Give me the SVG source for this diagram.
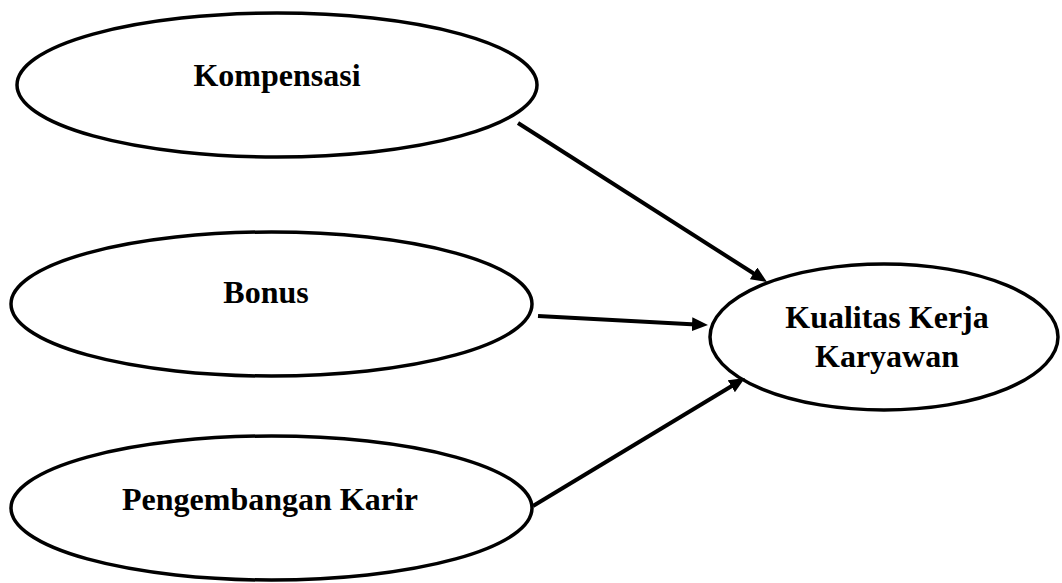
<svg xmlns="http://www.w3.org/2000/svg" width="1062" height="583" viewBox="0 0 1062 583">
  <style>
    .node ellipse { fill: #ffffff; stroke: #000000; stroke-width: 3.5; }
    .node text { font-family: "Liberation Serif", "Times New Roman", serif; font-weight: bold; font-size: 32px; fill: #000000; text-anchor: middle; }
    .edge { stroke: #000000; stroke-width: 4; fill: none; marker-end: url(#arrow); }
  </style>
  <defs>
    <marker id="arrow" markerUnits="userSpaceOnUse" markerWidth="16" markerHeight="14" refX="4" refY="7" orient="auto">
      <path d="M0,0 L16,7 L0,14 z" fill="#000000"/>
    </marker>
  </defs>
  <rect width="1062" height="583" fill="#ffffff"/>

  <g id="kompensasi" class="node">
    <ellipse cx="277" cy="85" rx="260" ry="72"/>
    <text x="277" y="86">Kompensasi</text>
  </g>

  <g id="bonus" class="node">
    <ellipse cx="271.5" cy="304" rx="260.5" ry="72"/>
    <text x="266" y="303">Bonus</text>
  </g>

  <g id="pengembangan-karir" class="node">
    <ellipse cx="271.5" cy="508" rx="260.5" ry="72"/>
    <text x="270" y="510">Pengembangan Karir</text>
  </g>

  <g id="kualitas-kerja-karyawan" class="node">
    <ellipse cx="884" cy="337" rx="174" ry="73"/>
    <text x="887" y="328">Kualitas Kerja</text>
    <text x="887" y="367">Karyawan</text>
  </g>

  <g id="connectors">
    <line class="edge" x1="518" y1="123" x2="756.9" y2="275.5"/>
    <line class="edge" x1="538" y1="316" x2="696" y2="324.4"/>
    <line class="edge" x1="533" y1="506" x2="734.7" y2="384.2"/>
  </g>
</svg>
